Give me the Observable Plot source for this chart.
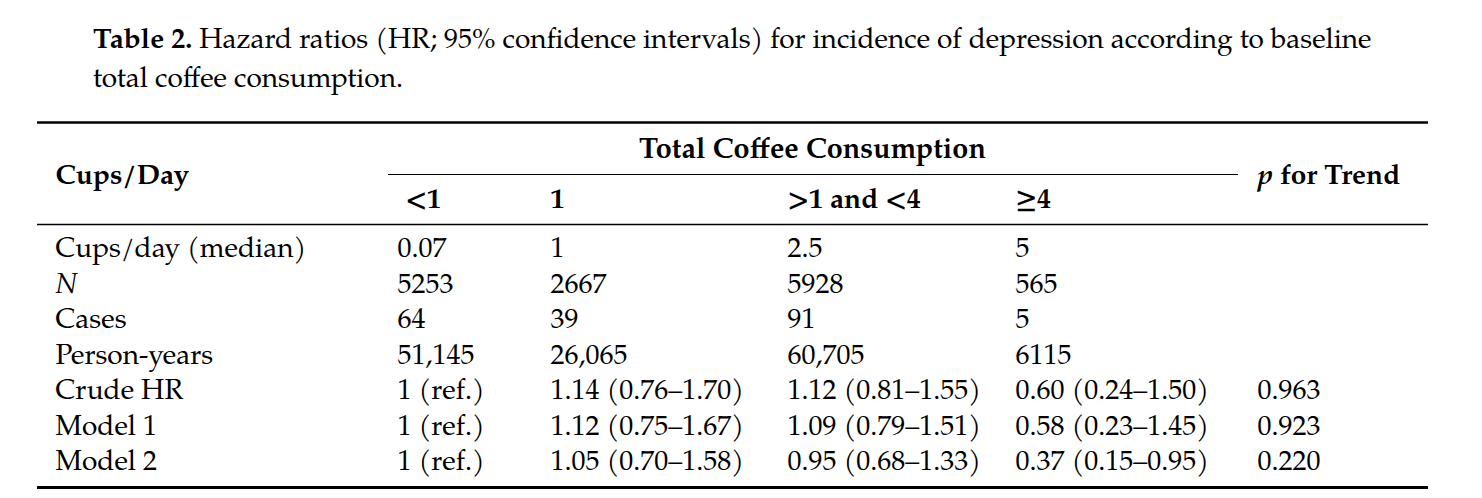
<!DOCTYPE html>
<html><head><meta charset="utf-8">
<script src="https://cdn.jsdelivr.net/npm/d3@7"></script>
<script src="https://cdn.jsdelivr.net/npm/@observablehq/plot@0.6"></script>
<style>
html,body{margin:0;padding:0;background:#fff;}
#caption{font-family:"P052","URW Palladio L","TeX Gyre Pagella","Palatino Linotype","Book Antiqua",Palatino,"Liberation Serif",serif;font-size:28px;line-height:39px;padding:22px 0 0 93px;height:78px;white-space:nowrap;color:#000;}
#caption b{font-weight:bold;}
#chart svg{display:block;}
</style></head><body>
<div id="caption"><b>Table 2.</b> Hazard ratios (HR; 95% confidence intervals) for incidence of depression according to baseline<br>total coffee consumption.</div>
<div id="chart"></div>
<script>
// ---- data ----
const stubHeader = "Cups/Day";
const spannerHeader = "Total Coffee Consumption";
const trendHeader = "p for Trend";
const columnHeaders = ["<1", "1", ">1 and <4", "≥4"];
const rowLabels = ["Cups/day (median)", "N", "Cases", "Person-years", "Crude HR", "Model 1", "Model 2"];
const colLt1 = ["0.07", "5253", "64", "51,145", "1 (ref.)", "1 (ref.)", "1 (ref.)"];
const col1 = ["1", "2667", "39", "26,065", "1.14 (0.76–1.70)", "1.12 (0.75–1.67)", "1.05 (0.70–1.58)"];
const col1to4 = ["2.5", "5928", "91", "60,705", "1.12 (0.81–1.55)", "1.09 (0.79–1.51)", "0.95 (0.68–1.33)"];
const colGe4 = ["5", "565", "5", "6115", "0.60 (0.24–1.50)", "0.58 (0.23–1.45)", "0.37 (0.15–0.95)"];
const pTrend = ["", "", "", "", "0.963", "0.923", "0.220"];

// ---- layout ----
const W = 1482, H = 398;
const FONT = "P052, URW Palladio L, TeX Gyre Pagella, Palatino Linotype, Book Antiqua, Palatino, Liberation Serif, serif";
const FS = 28;
const colX = [55, 397, 550, 787, 1015, 1257];
const headNudge = [0, 8, 0, 0, 0, 0];
const rowY0 = 148, rowGap = 35.5;
const headY = 99, spanY = 48, stubY = 75;

const body = [];
rowLabels.forEach((lab, i) => {
  [lab, colLt1[i], col1[i], col1to4[i], colGe4[i], pTrend[i]].forEach((t, j) => {
    if (t) body.push({text: t, col: j, row: i, italic: j === 0 && lab === "N"});
  });
});
const heads = columnHeaders.map((t, j) => ({text: t, col: j + 1}));
const rules = [
  {y: 22, x1: 37, x2: 1428, w: 2.6},
  {y: 74, x1: 388, x2: 1238, w: 1},
  {y: 124, x1: 37, x2: 1428, w: 1.3},
  {y: 387, x1: 37, x2: 1428, w: 2.8}
];

const common = {textAnchor: "start", lineAnchor: "middle", fontSize: FS, fontFamily: FONT, fill: "#000"};

const svg = Plot.plot({
  width: W, height: H, margin: 0,
  x: {domain: [0, W], range: [0, W], axis: null},
  y: {domain: [0, H], range: [0, H], axis: null},
  style: {background: "#fff"},
  marks: [
    Plot.ruleY(rules, {y: "y", x1: "x1", x2: "x2", stroke: "#000", strokeWidth: d => d.w}),
    Plot.text([stubHeader], {...common, x: () => colX[0], y: () => stubY, text: d => d, fontWeight: "bold"}),
    Plot.text([spannerHeader], {...common, fontSize: FS + 0.8, textAnchor: "middle", x: () => 812, y: () => spanY, text: d => d, fontWeight: "bold"}),
    Plot.text([trendHeader], {...common, x: () => colX[5], y: () => stubY, text: d => d, fontWeight: "bold"}),
    Plot.text(heads, {...common, x: d => colX[d.col] + headNudge[d.col], y: () => headY, text: "text", fontWeight: "bold"}),
    Plot.text(body.filter(d => !d.italic), {...common, x: d => colX[d.col], y: d => rowY0 + d.row * rowGap, text: "text"}),
    Plot.text(body.filter(d => d.italic), {...common, x: d => colX[d.col], y: d => rowY0 + d.row * rowGap, text: "text", fontStyle: "italic"})
  ]
});
// italic "p" in the trend header
d3.select(svg).selectAll("text").filter(function () { return this.textContent === trendHeader; })
  .each(function () {
    const t = d3.select(this);
    t.text(null);
    t.append("tspan").attr("font-style", "italic").text("p");
    t.append("tspan").text(" for Trend");
  });
document.getElementById("chart").appendChild(svg);
</script>
</body></html>
